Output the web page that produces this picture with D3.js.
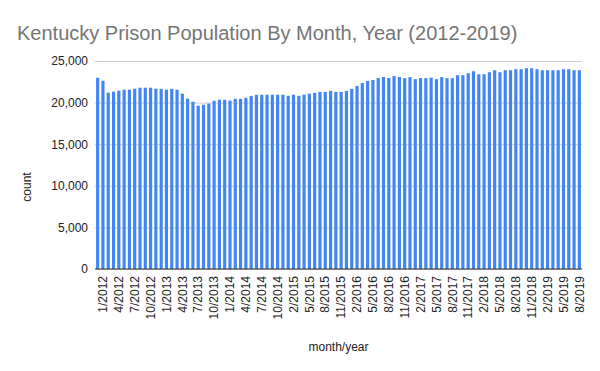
<!DOCTYPE html>
<html>
<head>
<meta charset="utf-8">
<script src="https://cdn.jsdelivr.net/npm/d3@7/dist/d3.min.js"></script>
<style>
  html, body { margin: 0; padding: 0; background: #fff; }
  svg { display: block; font-family: Arial, "Liberation Sans", sans-serif; }
</style>
</head>
<body>
<svg id="chart" width="600" height="371"></svg>
<script>
const titleText = "Kentucky Prison Population By Month, Year (2012-2019)";
const xTitle = "month/year";
const yTitle = "count";

const months = [
  "12/2011",
  "1/2012","2/2012","3/2012","4/2012","5/2012","6/2012","7/2012","8/2012","9/2012","10/2012","11/2012","12/2012",
  "1/2013","2/2013","3/2013","4/2013","5/2013","6/2013","7/2013","8/2013","9/2013","10/2013","11/2013","12/2013",
  "1/2014","2/2014","3/2014","4/2014","5/2014","6/2014","7/2014","8/2014","9/2014","10/2014","11/2014",
  "1/2015","2/2015","3/2015","4/2015","5/2015","6/2015","7/2015","8/2015","9/2015","10/2015","11/2015","12/2015",
  "1/2016","2/2016","3/2016","4/2016","5/2016","6/2016","7/2016","8/2016","9/2016","10/2016","11/2016","12/2016",
  "1/2017","2/2017","3/2017","4/2017","5/2017","6/2017","7/2017","8/2017","9/2017","10/2017","11/2017","12/2017",
  "1/2018","2/2018","3/2018","4/2018","5/2018","6/2018","7/2018","8/2018","9/2018","10/2018","11/2018","12/2018",
  "1/2019","2/2019","3/2019","4/2019","5/2019","6/2019","7/2019","8/2019"
];

const counts = [
  22980, 22620, 21190, 21310, 21430, 21550, 21550, 21670, 21790, 21790,
  21790, 21670, 21650, 21550, 21650, 21550, 21070, 20480, 20100, 19620,
  19740, 19880, 20220, 20340, 20340, 20240, 20460, 20460, 20580, 20810,
  20930, 20950, 20950, 20950, 20950, 20950, 20810, 20950, 20810, 20950,
  21070, 21170, 21290, 21290, 21410, 21290, 21290, 21410, 21650, 22000,
  22360, 22600, 22720, 22960, 23080, 22960, 23190, 23080, 22940, 23060,
  22820, 22940, 22940, 23000, 22820, 23060, 22940, 22940, 23290, 23290,
  23530, 23770, 23410, 23410, 23650, 23890, 23650, 23890, 23890, 24010,
  24010, 24130, 24130, 24010, 23890, 23890, 23890, 23890, 24010, 24010,
  23890, 23890
];

const yTicks = [0, 5000, 10000, 15000, 20000, 25000];

(function () {
const data = months.map((m, i) => ({ month: m, value: counts[i] }));

const svg = d3.select("#chart");
const plotLeft = 95, plotRight = 582, plotTop = 61, plotBottom = 269;

const x = d3.scaleBand()
  .domain(months)
  .range([plotLeft, plotRight])
  .paddingInner(0.4)
  .paddingOuter(0.2);

const y = d3.scaleLinear()
  .domain([0, 25000])
  .range([plotBottom, plotTop]);

// title
svg.append("text")
  .attr("x", 17)
  .attr("y", 40)
  .attr("font-size", 20)
  .attr("fill", "#757575")
  .text(titleText);

// gridlines + y labels
const yAxis = d3.axisLeft(y)
  .tickValues(yTicks)
  .tickSize(-(plotRight - plotLeft))
  .tickPadding(7)
  .tickFormat(d3.format(","));

const gy = svg.append("g")
  .attr("transform", `translate(${plotLeft},0)`)
  .call(yAxis);
gy.select(".domain").remove();
gy.selectAll(".tick line").attr("stroke", "#cccccc").attr("stroke-width", 1);
gy.selectAll(".tick text")
  .attr("font-size", 12)
  .attr("fill", "#222222")
  .attr("font-family", "Arial, 'Liberation Sans', sans-serif");

// bars
svg.append("g")
  .selectAll("rect")
  .data(data)
  .join("rect")
  .attr("x", d => x(d.month))
  .attr("width", x.bandwidth())
  .attr("y", d => y(d.value))
  .attr("height", d => y(0) - y(d.value))
  .attr("fill", "#4285f4");

// baseline
svg.append("line")
  .attr("x1", plotLeft).attr("x2", plotRight)
  .attr("y1", y(0)).attr("y2", y(0))
  .attr("stroke", "#333333").attr("stroke-width", 1);

// x axis labels (every 3rd)
const xAxis = d3.axisBottom(x)
  .tickValues(months.filter((m, i) => i % 3 === 1))
  .tickSize(0)
  .tickPadding(0);

const gx = svg.append("g")
  .attr("transform", `translate(0,${plotBottom})`)
  .call(xAxis);
gx.select(".domain").remove();
gx.selectAll(".tick text")
  .attr("font-size", 12)
  .attr("fill", "#222222")
  .attr("font-family", "Arial, 'Liberation Sans', sans-serif")
  .attr("text-anchor", "end")
  .attr("dy", "0.35em")
  .attr("transform", "translate(0,7) rotate(-90)")
  .attr("x", 0)
  .attr("y", 0);

// axis titles
svg.append("text")
  .attr("x", (plotLeft + plotRight) / 2)
  .attr("y", 351)
  .attr("text-anchor", "middle")
  .attr("font-size", 12)
  .attr("fill", "#222222")
  .text(xTitle);

svg.append("text")
  .attr("transform", "translate(31,187) rotate(-90)")
  .attr("text-anchor", "middle")
  .attr("font-size", 12)
  .attr("fill", "#222222")
  .text(yTitle);
})();
</script>
</body>
</html>
